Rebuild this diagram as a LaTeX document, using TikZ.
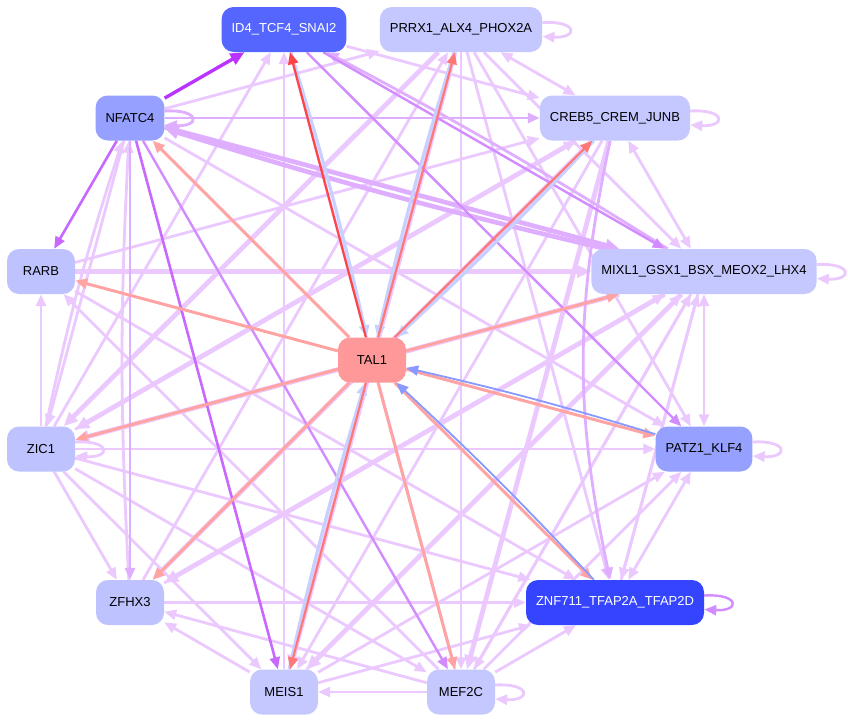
\documentclass[tikz,border=0pt]{standalone}
\usepackage{fontspec}
\setmainfont{Liberation Sans}
\usetikzlibrary{arrows.meta}
\pgfdeclarelayer{bg}
\pgfsetlayers{bg,main}
\definecolor{lpc}{HTML}{EBC9FF}
\definecolor{mpc}{HTML}{E0AEFF}
\definecolor{dpc}{HTML}{D38CFF}
\definecolor{dppc}{HTML}{C868FF}
\definecolor{spc}{HTML}{BB33FF}
\definecolor{rdc}{HTML}{FF4444}
\definecolor{rdtc}{HTML}{FF7777}
\definecolor{sac}{HTML}{FFA3A3}
\definecolor{lbc}{HTML}{C8D0FF}
\definecolor{blc}{HTML}{8899FF}
\definecolor{nlight}{HTML}{C5C8FF}
\definecolor{nmid}{HTML}{BEC3FF}
\definecolor{ndark}{HTML}{96A0FF}
\definecolor{nblue}{HTML}{5566FF}
\definecolor{ndeep}{HTML}{3545FF}
\definecolor{nred}{HTML}{FF9999}
\begin{document}
\begin{tikzpicture}[x=1pt,y=-1pt,
  nd/.style={rectangle, rounded corners=12pt, minimum height=45pt, minimum width=68pt,
    inner xsep=10pt, font=\fontsize{13}{15}\selectfont, draw=none, text=black},
  ar/.style={-{Triangle[length=12pt,width=10pt]}},
  art/.style={-{Triangle[length=14pt,width=12pt]}},
  both/.style={{Triangle[length=12pt,width=10pt]}-{Triangle[length=12pt,width=10pt]}},
  lp/.style={ar, draw=lpc, line width=2.8pt},
  lpt/.style={art, draw=lpc, line width=4.8pt},
  mp/.style={ar, draw=mpc, line width=2.8pt},
  mpt/.style={art, draw=mpc, line width=4.6pt},
  dp/.style={ar, draw=dpc, line width=2.4pt},
  dpp/.style={ar, draw=dppc, line width=2.6pt},
  sp/.style={art, draw=spc, line width=3.4pt},
  rd/.style={ar, draw=rdc, line width=2.2pt},
  rdt/.style={ar, draw=rdtc, line width=2.2pt},
  sa/.style={ar, draw=sac, line width=3pt},
  lb/.style={ar, draw=lbc, line width=3.2pt},
  bl/.style={ar, draw=blc, line width=1.8pt}
]
\useasboundingbox (0,0) rectangle (848,721);

\node[nd, fill=nblue, text=white] (I) at (284,29.5) {ID4\_TCF4\_SNAI2};
\node[nd, fill=nlight] (P) at (461,29.5) {PRRX1\_ALX4\_PHOX2A};
\node[nd, fill=ndark] (N) at (130,118) {NFATC4};
\node[nd, fill=nlight] (C) at (615,118) {CREB5\_CREM\_JUNB};
\node[nd, fill=nmid] (R) at (41,271.5) {RARB};
\node[nd, fill=nlight] (M) at (704,271.5) {MIXL1\_GSX1\_BSX\_MEOX2\_LHX4};
\node[nd, fill=nred] (T) at (372,360) {TAL1};
\node[nd, fill=nmid] (Z) at (41,449) {ZIC1};
\node[nd, fill=ndark] (K) at (704,449) {PATZ1\_KLF4};
\node[nd, fill=nmid] (F) at (130,602.5) {ZFHX3};
\node[nd, fill=ndeep, text=white] (A) at (615,602.5) {ZNF711\_TFAP2A\_TFAP2D};
\node[nd, fill=nlight] (E) at (284,692) {MEIS1};
\node[nd, fill=nlight] (G) at (461,692) {MEF2C};

\begin{pgfonlayer}{bg}
\fill[white] (0,0) rectangle (848,721);
% light edges first
\draw[lp] (Z) -- (I);
\draw[lp] (E) -- (I);
\draw[lp] (G) -- (I);
\draw[lp] (I) -- (C);
\draw[lp] (N) -- (P);
\draw[lp] (N) -- (K);
\draw[lp] (N) -- (Z);
\draw[lp] (Z) to[bend left=3] (N);
\draw[lp] (F) to[bend left=3] (N);
\draw[lp, both] (P) -- (C);
\draw[lpt] (P) -- (Z);
\draw[lp] (F) -- (P);
\draw[lp] (P) -- (G);
\draw[lpt] (P) -- (E);
\draw[lp] (P) -- (M);
\draw[lp] (P) -- (K);
\draw[lp] (P) -- (A);
\draw[lpt] (C) -- (Z);
\draw[lpt] (C) -- (F);
\draw[lpt] (C) -- (G);
\draw[lp] (C) -- (E);
\draw[lp, both] (C) -- (M);
\draw[lp] (R) -- (C);
\draw[lp] (Z) -- (C);
\draw[lpt] (M) -- (Z);
\draw[lpt] (M) -- (F);
\draw[lpt] (M) -- (E);
\draw[lp] (M) -- (G);
\draw[lp] (M) -- (A);
\draw[lp, both] (M) -- (K);
\draw[lpt] (R) -- (M);
\draw[lp] (F) -- (M);
\draw[lp] (E) -- (M);
\draw[lp] (G) -- (M);
\draw[lp] (A) -- (M);
\draw[lp] (Z) -- (R);
\draw[lp] (Z) -- (F);
\draw[lp] (Z) -- (E);
\draw[lp] (Z) -- (G);
\draw[lp] (Z) -- (A);
\draw[lp] (Z) -- (K);
\draw[lp] (R) -- (A);
\draw[lp] (G) -- (R);
\draw[lp] (F) -- (A);
\draw[lp] (E) -- (F);
\draw[lp] (G) -- (F);
\draw[lp] (E) -- (A);
\draw[lp] (E) -- (K);
\draw[lp] (G) -- (E);
\draw[lp] (G) -- (A);
\draw[lp] (G) -- (K);
\draw[lp, both] (A) -- (K);
% medium / dark purple
\draw[mp] (N) -- (C);
\draw[mpt] (N) -- (M);
\draw[mpt] (M) to[bend left=2] (N);
\draw[mp] (N) -- (F);
\draw[mp] (M) to[bend right=2] (I);
\draw[mp] (C) to[bend right=12] (A);
\draw[dp] (I) -- (M);
\draw[dp] (I) -- (K);
\draw[dp] (N) -- (G);
\draw[dpp] (N) -- (E);
\draw[dpp] (N) -- (R);
\draw[sp] (N) -- (I);
% TAL1 edges
\draw[lb] (I) to[bend left=2] (T);
\draw[rd] (T) -- (I);
\draw[lb] (P) to[bend right=2] (T);
\draw[rdt] (T) -- (P);
\draw[lb] (C) to[bend left=2] (T);
\draw[rdt] (T) -- (C);
\draw[lb] (E) to[bend left=2] (T);
\draw[rdt] (T) -- (E);
\draw[sa] (T) -- (N);
\draw[sa] (T) -- (R);
\draw[sa] (T) -- (M);
\draw[sa] (T) -- (Z);
\draw[sa] (T) -- (F);
\draw[sa] (T) -- (G);
\draw[sa] (T) -- (A);
\draw[bl] (A) to[bend right=2] (T);
\draw[sa] (T) -- (K);
\draw[bl] (K) to[bend right=2] (T);
% self loops
\draw[mp] ([yshift=7pt]N.east) .. controls +(36,-2) and +(36,2) .. ([yshift=-7pt]N.east);
\draw[lp] ([yshift=7pt]P.east) .. controls +(36,-2) and +(36,2) .. ([yshift=-7pt]P.east);
\draw[lp] ([yshift=7pt]C.east) .. controls +(36,-2) and +(36,2) .. ([yshift=-7pt]C.east);
\draw[lp] ([yshift=7pt]M.east) .. controls +(36,-2) and +(36,2) .. ([yshift=-7pt]M.east);
\draw[lp] ([yshift=7pt]Z.east) .. controls +(36,-2) and +(36,2) .. ([yshift=-7pt]Z.east);
\draw[lp] ([yshift=7pt]K.east) .. controls +(36,-2) and +(36,2) .. ([yshift=-7pt]K.east);
\draw[lp] ([yshift=7pt]G.east) .. controls +(36,-2) and +(36,2) .. ([yshift=-7pt]G.east);
\draw[dp] ([yshift=7pt]A.east) .. controls +(36,-2) and +(36,2) .. ([yshift=-7pt]A.east);
\end{pgfonlayer}
\end{tikzpicture}
\end{document}
